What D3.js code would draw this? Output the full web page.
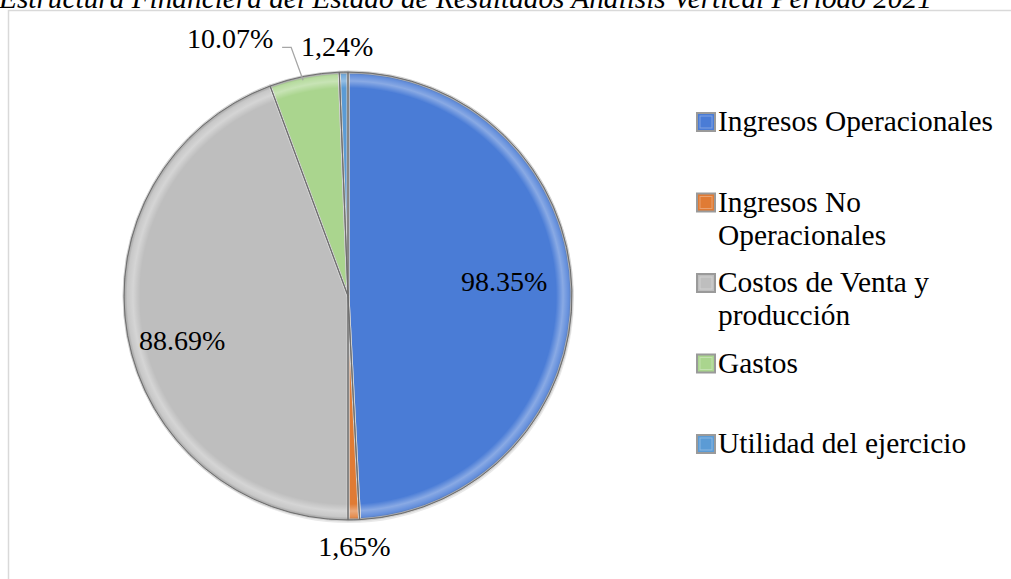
<!DOCTYPE html>
<html>
<head>
<meta charset="utf-8">
<script src="https://cdn.jsdelivr.net/npm/d3@7"></script>
<style>
  body { margin: 0; background: #fff; }
  svg { display: block; }
  text { font-family: "Liberation Serif", "Times New Roman", serif; }
</style>
</head>
<body>
<svg width="1011" height="579"></svg>
<script>
// chart data
const categories = ["Ingresos Operacionales", "Ingresos No Operacionales", "Costos de Venta y producción", "Gastos", "Utilidad del ejercicio"];
const values = [98.35, 1.65, 88.69, 10.07, 1.24];
const valueLabels = ["98.35%", "1,65%", "88.69%", "10.07%", "1,24%"];
const legendLines = [["Ingresos Operacionales"], ["Ingresos No", "Operacionales"], ["Costos de Venta y", "producción"], ["Gastos"], ["Utilidad del ejercicio"]];
const colors = ["#4A7CD6", "#E07B34", "#BEBEBE", "#AAD58E", "#5B9BD5"];
const titleText = "Estructura Financiera del Estado de Resultados Análisis Vertical Periodo 2021";

const svg = d3.select("svg");
const w = 1011, h = 579;
const serif = "'Liberation Serif', 'Times New Roman', serif";

// outer frame
svg.append("rect")
  .attr("x", 8.5).attr("y", 10.5)
  .attr("width", w).attr("height", h)
  .attr("fill", "none").attr("stroke", "#d9d9d9").attr("stroke-width", 1.5);

// title (cut off at the top like the original)
svg.append("text")
  .attr("x", -1).attr("y", 8)
  .attr("font-family", serif)
  .attr("font-size", 29.3).attr("font-style", "italic")
  .attr("fill", "#000")
  .text(titleText);

const cx = 348, cy = 296, r = 224;
const g = svg.append("g").attr("transform", "translate(" + cx + "," + cy + ")");

const pie = d3.pie().sort(null).value(d => d);
const arcs = pie(values);
const arc = d3.arc().innerRadius(0).outerRadius(r);
const rim = d3.arc().innerRadius(r - 16).outerRadius(r);

// bevel gradient for the rim
const defs = svg.append("defs");
const rg = defs.append("radialGradient")
  .attr("id", "rim").attr("gradientUnits", "userSpaceOnUse")
  .attr("cx", 0).attr("cy", 0).attr("r", r);
rg.append("stop").attr("offset", (r - 16) / r).attr("stop-color", "#fff").attr("stop-opacity", 0);
rg.append("stop").attr("offset", 0.96).attr("stop-color", "#fff").attr("stop-opacity", 0.35);
rg.append("stop").attr("offset", 0.985).attr("stop-color", "#fff").attr("stop-opacity", 0.15);
rg.append("stop").attr("offset", 1).attr("stop-color", "#000").attr("stop-opacity", 0.35);

// soft shadow under the pie
g.append("circle").attr("r", r + 1).attr("cx", 1).attr("cy", 2)
  .attr("fill", "#d4d4d4").attr("opacity", 0.5);

g.selectAll("path.slice")
  .data(arcs)
  .enter()
  .append("path")
  .attr("class", "slice")
  .attr("d", arc)
  .attr("fill", (d, i) => colors[i])
  .attr("stroke", "#d0d0d0")
  .attr("stroke-width", 3)
  .attr("stroke-linejoin", "round");

g.selectAll("path.rim")
  .data(arcs)
  .enter()
  .append("path")
  .attr("class", "rim")
  .attr("d", rim)
  .attr("fill", "url(#rim)");

// thin dark outline on each slice
g.selectAll("path.edge")
  .data(arcs)
  .enter()
  .append("path")
  .attr("class", "edge")
  .attr("d", arc)
  .attr("fill", "none")
  .attr("stroke", "#6e6e6e")
  .attr("stroke-width", 1);

// value labels: inside for big slices, outside for small ones
const inLabel = d3.arc().innerRadius(r * 0.72).outerRadius(r * 0.72);
const outLabel = d3.arc().innerRadius(r + 26).outerRadius(r + 26);
const labels = g.selectAll("text.val")
  .data(arcs)
  .enter()
  .append("text")
  .attr("class", "val")
  .attr("font-family", serif)
  .attr("font-size", 28)
  .attr("text-anchor", "middle")
  .attr("fill", "#000")
  .text((d, i) => valueLabels[i]);

labels.each(function(d, i) {
  const t = d3.select(this);
  const mid = (d.startAngle + d.endAngle) / 2;
  if (i === 3) {
    // Gastos label sits up-left with a leader line
    const px = Math.sin(mid) * r, py = -Math.cos(mid) * r;
    const lx = px - 74, ly = py - 29;
    t.attr("x", lx).attr("y", ly + 1);
    g.append("polyline")
      .attr("points", [[lx + 52, ly], [lx + 61, ly], [px - 1, py + 4]].map(p => p.join(",")).join(" "))
      .attr("fill", "none").attr("stroke", "#a6a6a6").attr("stroke-width", 1.3);
  } else if (values[i] < 5) {
    const c = outLabel.centroid(d);
    t.attr("x", c[0] + (i === 4 ? -6 : 0)).attr("y", c[1] + 10);
  } else {
    const c = inLabel.centroid(d);
    t.attr("x", c[0] + (i === 0 ? -5 : -7)).attr("y", c[1] + (i === 0 ? -1 : 25));
  }
});

// legend
const legendY = d3.scalePoint().domain(categories).range([122, 444]);
const legend = svg.append("g").attr("id", "legend");
const items = legend.selectAll("g")
  .data(categories)
  .enter()
  .append("g")
  .attr("transform", d => "translate(697," + legendY(d) + ")");

items.append("rect")
  .attr("x", 0).attr("y", -9)
  .attr("width", 18).attr("height", 18)
  .attr("fill", (d, i) => colors[i])
  .attr("stroke", "#9a9a9a").attr("stroke-width", 2);
items.append("rect")
  .attr("x", 3).attr("y", -6)
  .attr("width", 12).attr("height", 12)
  .attr("fill", (d, i) => colors[i])
  .attr("stroke", "#fff").attr("stroke-opacity", 0.3).attr("stroke-width", 1);

items.append("text")
  .attr("x", 21).attr("y", 9)
  .attr("font-family", serif)
  .attr("font-size", 29.4)
  .attr("fill", "#000")
  .selectAll("tspan")
  .data((d, i) => legendLines[i])
  .enter()
  .append("tspan")
  .attr("x", 21)
  .attr("dy", (d, j) => j === 0 ? 0 : 33)
  .text(d => d);
</script>
</body>
</html>
